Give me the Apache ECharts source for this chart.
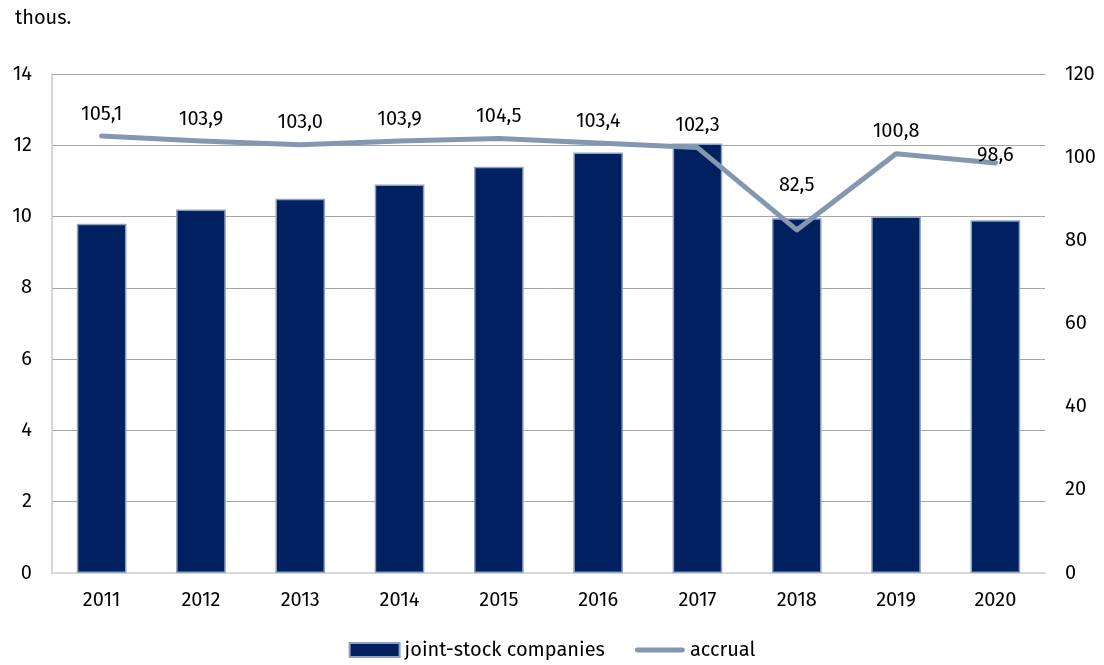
<!DOCTYPE html>
<html><head><meta charset="utf-8">
<script src="https://cdn.jsdelivr.net/npm/echarts@6/dist/echarts.min.js"></script>
<style>html,body{margin:0;padding:0;background:#fff}#c{width:1104px;height:665px}</style>
</head><body><div id="c"></div>
<script>
var categories = ['2011','2012','2013','2014','2015','2016','2017','2018','2019','2020'];
var companies = [9.8, 10.2, 10.5, 10.9, 11.4, 11.8, 12.05, 9.95, 10.0, 9.9];
var accrual = [105.1, 103.9, 103.0, 103.9, 104.5, 103.4, 102.3, 82.5, 100.8, 98.6];
var leftTicks = {min: 0, max: 14, interval: 2};
var rightTicks = {min: 0, max: 120, interval: 20};
var F = '"Fira Sans","Noto Sans",sans-serif';
var labelDist = {7: 34, 9: -3};
var accrualData = accrual.map(function(v, i){
  return labelDist[i] !== undefined ? {value: v, label: {distance: labelDist[i]}} : v;
});
var lineIcon = 'path://M2,0 L48,0 A2.5,2.5 0 0 1 48,5 L2,5 A2.5,2.5 0 0 1 2,0 Z';
var chart = echarts.init(document.getElementById('c'));
chart.setOption({
  animation: false,
  textStyle: {fontFamily: F},
  title: {text: 'thous.', left: 10, top: 3, textStyle: {fontFamily: F, fontSize: 20, fontWeight: 'normal', color: '#000'}},
  grid: {left: 52, right: 59, top: 74, bottom: 92},
  legend: {
    bottom: 0, left: 'center', itemGap: 30, itemWidth: 50, itemHeight: 14,
    textStyle: {fontFamily: F, fontSize: 20, color: '#000'},
    data: [
      {name: 'joint-stock companies', icon: 'rect'},
      {name: 'accrual', icon: lineIcon}
    ]
  },
  xAxis: {
    type: 'category', data: categories,
    axisLine: {lineStyle: {color: '#d9d9d9', width: 2}},
    axisTick: {show: false},
    axisLabel: {fontFamily: F, fontSize: 20, color: '#000', margin: 17}
  },
  yAxis: [
    {type: 'value', min: leftTicks.min, max: leftTicks.max, interval: leftTicks.interval,
     axisLine: {show: true, lineStyle: {color: '#c8c8c8', width: 1.5}},
     axisTick: {show: false},
     axisLabel: {fontFamily: F, fontSize: 20, color: '#000', margin: 20},
     splitLine: {lineStyle: {color: '#a6a6a6', width: 1}}},
    {type: 'value', min: rightTicks.min, max: rightTicks.max, interval: rightTicks.interval,
     axisLine: {show: false}, axisTick: {show: false},
     axisLabel: {fontFamily: F, fontSize: 20, color: '#000', margin: 20},
     splitLine: {show: false}}
  ],
  series: [
    {name: 'joint-stock companies', type: 'bar', data: companies, barWidth: '50%',
     itemStyle: {color: '#002060', borderColor: '#8ea2c0', borderWidth: 1.5}},
    {name: 'accrual', type: 'line', yAxisIndex: 1, data: accrualData,
     symbol: 'circle', symbolSize: 2, showSymbol: true,
     lineStyle: {color: '#8497b0', width: 5, cap: 'round', join: 'round'},
     itemStyle: {color: '#8497b0'},
     label: {show: true, position: 'top', distance: 11, fontFamily: F, fontSize: 20, color: '#000',
       formatter: function(p){ return p.value.toFixed(1).replace('.', ','); }}}
  ]
});
</script></body></html>
